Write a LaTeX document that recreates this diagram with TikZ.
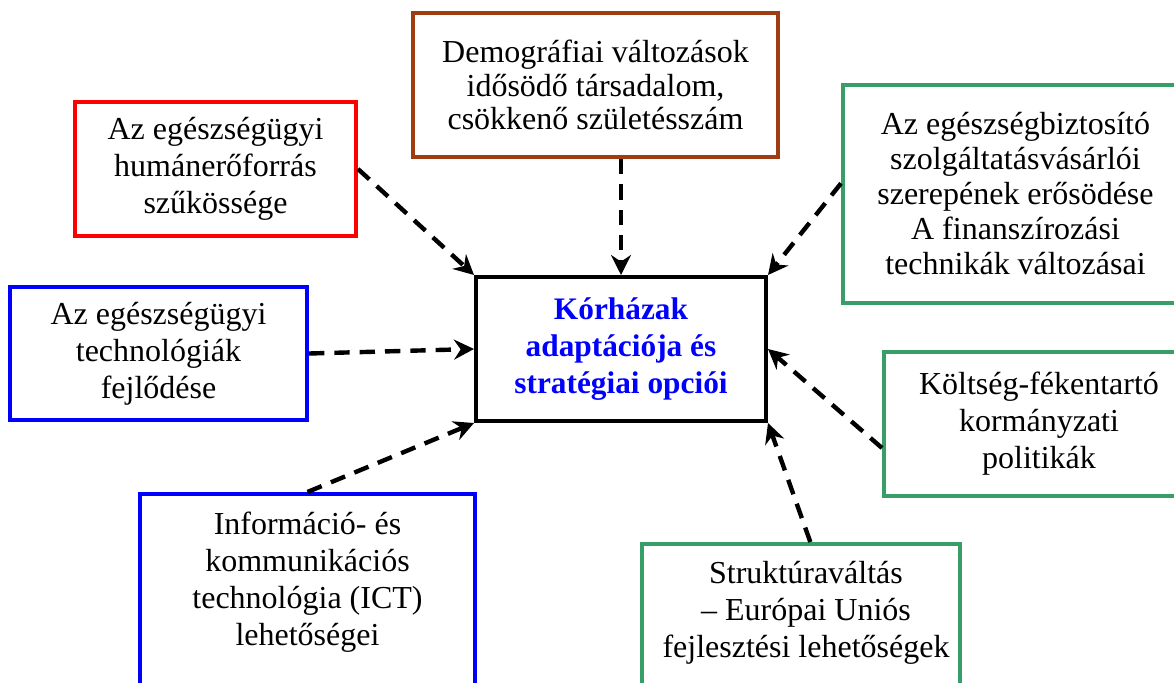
\documentclass[tikz,border=0pt]{standalone}
\usepackage{fontspec}
\setmainfont{Liberation Serif}
\usetikzlibrary{arrows.meta}

\definecolor{hbrown}{RGB}{160,60,20}
\definecolor{hgreen}{RGB}{56,158,104}

\tikzset{every picture/.style={line width=0.75pt}}
\tikzset{
  hbox/.style={draw, line width=3pt, align=center, inner sep=0pt,
    font=\fontsize{24}{27.75}\selectfont},
  htext/.style={align=center, inner sep=0pt, font=\fontsize{24}{27.75}\selectfont},
  hlink/.style={line width=3.3pt, dash pattern=on 11.5pt off 7.5pt,
    -{Stealth[length=15pt,width=15pt,inset=5pt]}},
}

\begin{document}
\begin{tikzpicture}[x=0.75pt,y=0.75pt,yscale=-1,xscale=1]
\clip (0,0) rectangle (1174,682);

% Center box
\node [hbox, minimum width=290*0.75pt, minimum height=144*0.75pt, text=blue,
  font=\fontsize{23.5}{28}\selectfont\bfseries] (korhaz) at (621,349)
  {Kórházak\\adaptációja és\\stratégiai opciói};

% Demography
\node [hbox, draw=hbrown, minimum width=365*0.75pt, minimum height=144*0.75pt,
  font=\fontsize{24}{25.2}\selectfont] (demo) at (595.5,85)
  {Demográfiai változások\\idősödő társadalom,\\csökkenő születésszám};
% Human resources
\node [hbox, draw=red, minimum width=281*0.75pt, minimum height=134*0.75pt] (hr) at (215.5,169)
  {Az egészségügyi\\humánerőforrás\\szűkössége};
% Technology
\node [hbox, draw=blue, minimum width=297*0.75pt, minimum height=133*0.75pt] (tech) at (158.5,353.5)
  {Az egészségügyi\\technológiák\\fejlődése};
% Financing
\node [hbox, draw=hgreen, minimum width=345*0.75pt, minimum height=218*0.75pt,
  font=\fontsize{24}{26.25}\selectfont] (fin) at (1015.5,194)
  {Az egészségbiztosító\\szolgáltatásvásárlói\\szerepének erősödése\\A finanszírozási\\technikák változásai};
% Cost containment
\node [hbox, draw=hgreen, minimum width=310*0.75pt, minimum height=144*0.75pt] (cost) at (1039,424)
  {Költség-fékentartó\\kormányzati\\politikák};

% ICT (box runs past the bottom)
\node [hbox, draw=blue, minimum width=335*0.75pt, minimum height=240*0.75pt, anchor=north] (ictbox) at (307.5,492) {};
\node [htext] (ict) at (307.5,582)
  {Információ- és\\kommunikációs\\technológia (ICT)\\lehetőségei};
% Structural change (box runs past the bottom)
\node [hbox, draw=hgreen, minimum width=318*0.75pt, minimum height=240*0.75pt, anchor=north] (strukbox) at (801,542) {};
\node [htext] (struk) at (806,613)
  {Struktúraváltás\\– Európai Uniós\\fejlesztési lehetőségek};

% Links
\draw [hlink] (hr.east) -- (korhaz.north west);
\draw [hlink] (korhaz.north |- demo.south) -- (korhaz.north);
\draw [hlink] ([yshift=-8pt]fin.west) -- (korhaz.north east);
\draw [hlink] (tech.east) -- (korhaz.west);
\draw [hlink] (ictbox.north) -- (korhaz.south west);
\draw [hlink] ([yshift=18pt]cost.west) -- (korhaz.east);
\draw [hlink] ([xshift=7pt]strukbox.north) -- (korhaz.south east);

\end{tikzpicture}
\end{document}
